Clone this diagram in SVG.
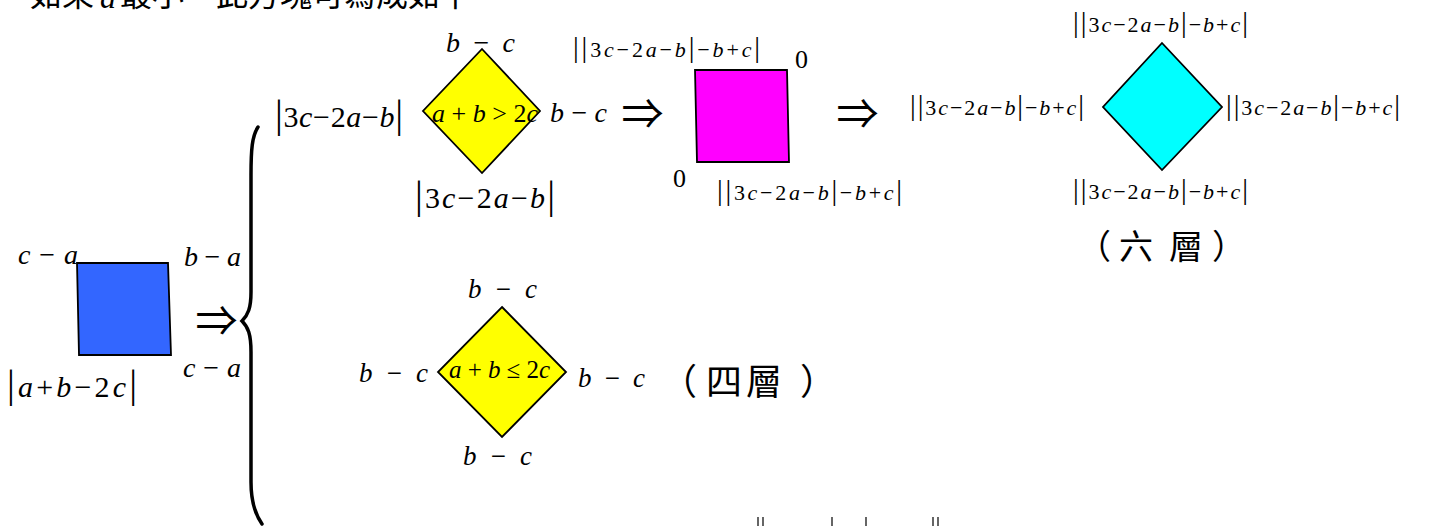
<svg xmlns="http://www.w3.org/2000/svg" width="1434" height="526" viewBox="0 0 1434 526">
<style>
.m{font-family:"Liberation Serif","DejaVu Serif",serif;fill:#000}
.i{font-style:italic}
.b{font-size:130%}
.cjk{font-family:"Noto Sans CJK TC","Noto Sans CJK SC",sans-serif;fill:#000}
.arr{font-family:"Noto Sans CJK JP","Noto Sans CJK TC","DejaVu Serif",sans-serif;font-size:42px;text-anchor:middle;fill:#000}
.shape{stroke:#000;stroke-width:1.8;stroke-linejoin:miter}
.s22{font-size:22px}.s24{font-size:24px}.s25{font-size:25px}.s26{font-size:26px}.s27{font-size:27px}.s28{font-size:28px}.s30{font-size:30px}
</style>
<rect width="1434" height="526" fill="#fff"/>

<g id="heading">
<text class="cjk" x="30" y="6" font-size="32">如果</text>
<text class="m i" x="100" y="8" font-size="32">a</text>
<text class="cjk" x="120" y="6" font-size="32">最小</text>
<text class="cjk" x="216" y="6" font-size="32">此方塊可寫成如下</text>
</g>

<g id="connectors">
<path d="M258,127 C252,136 251,150 251,175 L251,292 C251,308 248,315 242,321 C248,327 251,334 251,352 L251,482 C251,502 255,514 262,524" fill="none" stroke="#000" stroke-width="3.5" stroke-linecap="round"/>
<text class="arr" x="216.5" y="336">⇒</text>
<text class="arr" x="642.5" y="129">⇒</text>
<text class="arr" x="857.5" y="129">⇒</text>
</g>

<g id="sq-blue">
<polygon class="shape" points="77,263 168,263 171,355 79,355" fill="#3366FF"/>
<text class="m s28" x="18" y="264" textLength="60" lengthAdjust="spacing"><tspan class="i">c</tspan> − <tspan class="i">a</tspan></text>
<text class="m s28" x="184" y="266" textLength="57" lengthAdjust="spacing"><tspan class="i">b</tspan> − <tspan class="i">a</tspan></text>
<text class="m s28" x="183" y="377" textLength="58" lengthAdjust="spacing"><tspan class="i">c</tspan> − <tspan class="i">a</tspan></text>
<text class="m s30" x="7" y="397" textLength="130" lengthAdjust="spacing"><tspan class="b">|</tspan><tspan class="i">a</tspan>+<tspan class="i">b</tspan>−2<tspan class="i">c</tspan><tspan class="b">|</tspan></text>
</g>

<g id="dia-top">
<polygon class="shape" points="482,49 540,111 482,173 423,111" fill="#FFFF00"/>
<text class="m s28" x="446" y="52" textLength="69" lengthAdjust="spacing"><tspan class="i">b</tspan> − <tspan class="i">c</tspan></text>
<text class="m s30" x="275" y="127" textLength="128" lengthAdjust="spacing"><tspan class="b">|</tspan>3<tspan class="i">c</tspan>−2<tspan class="i">a</tspan>−<tspan class="i">b</tspan><tspan class="b">|</tspan></text>
<text class="m s26" x="432" y="122" textLength="106" lengthAdjust="spacing"><tspan class="i">a</tspan> + <tspan class="i">b</tspan> &gt; 2<tspan class="i">c</tspan></text>
<text class="m s28" x="550" y="122" textLength="57" lengthAdjust="spacing"><tspan class="i">b</tspan> − <tspan class="i">c</tspan></text>
<text class="m s30" x="415" y="208" textLength="140" lengthAdjust="spacing"><tspan class="b">|</tspan>3<tspan class="i">c</tspan>−2<tspan class="i">a</tspan>−<tspan class="i">b</tspan><tspan class="b">|</tspan></text>
</g>

<g id="sq-magenta">
<polygon class="shape" points="695,70 787,70 789,162 697,162" fill="#FF00FF"/>
<text class="m s22" x="573" y="57" textLength="187" lengthAdjust="spacing"><tspan class="b">||</tspan>3<tspan class="i">c</tspan>−2<tspan class="i">a</tspan>−<tspan class="i">b</tspan><tspan class="b">|</tspan>−<tspan class="i">b</tspan>+<tspan class="i">c</tspan><tspan class="b">|</tspan></text>
<text class="m s26" x="795" y="68">0</text>
<text class="m s26" x="673" y="187">0</text>
<text class="m s22" x="717" y="200" textLength="185" lengthAdjust="spacing"><tspan class="b">||</tspan>3<tspan class="i">c</tspan>−2<tspan class="i">a</tspan>−<tspan class="i">b</tspan><tspan class="b">|</tspan>−<tspan class="i">b</tspan>+<tspan class="i">c</tspan><tspan class="b">|</tspan></text>
</g>

<g id="dia-cyan">
<polygon class="shape" points="1162,43 1222,107 1162,170 1103,107" fill="#00FFFF"/>
<text class="m s22" x="1073" y="32" textLength="175" lengthAdjust="spacing"><tspan class="b">||</tspan>3<tspan class="i">c</tspan>−2<tspan class="i">a</tspan>−<tspan class="i">b</tspan><tspan class="b">|</tspan>−<tspan class="i">b</tspan>+<tspan class="i">c</tspan><tspan class="b">|</tspan></text>
<text class="m s22" x="910" y="115" textLength="174" lengthAdjust="spacing"><tspan class="b">||</tspan>3<tspan class="i">c</tspan>−2<tspan class="i">a</tspan>−<tspan class="i">b</tspan><tspan class="b">|</tspan>−<tspan class="i">b</tspan>+<tspan class="i">c</tspan><tspan class="b">|</tspan></text>
<text class="m s22" x="1226" y="115" textLength="174" lengthAdjust="spacing"><tspan class="b">||</tspan>3<tspan class="i">c</tspan>−2<tspan class="i">a</tspan>−<tspan class="i">b</tspan><tspan class="b">|</tspan>−<tspan class="i">b</tspan>+<tspan class="i">c</tspan><tspan class="b">|</tspan></text>
<text class="m s22" x="1073" y="199" textLength="175" lengthAdjust="spacing"><tspan class="b">||</tspan>3<tspan class="i">c</tspan>−2<tspan class="i">a</tspan>−<tspan class="i">b</tspan><tspan class="b">|</tspan>−<tspan class="i">b</tspan>+<tspan class="i">c</tspan><tspan class="b">|</tspan></text>
<text class="cjk" x="1077 1119 1169 1212" y="259" font-size="34">（六層）</text>
</g>

<g id="dia-low">
<polygon class="shape" points="502,307 566,372 502,437 438,372" fill="#FFFF00"/>
<text class="m s27" x="468" y="298" textLength="69" lengthAdjust="spacing"><tspan class="i">b</tspan> − <tspan class="i">c</tspan></text>
<text class="m s27" x="359" y="382" textLength="69" lengthAdjust="spacing"><tspan class="i">b</tspan> − <tspan class="i">c</tspan></text>
<text class="m s25" x="449" y="378" textLength="101" lengthAdjust="spacing"><tspan class="i">a</tspan> + <tspan class="i">b</tspan> ≤ 2<tspan class="i">c</tspan></text>
<text class="m s27" x="578" y="387" textLength="67" lengthAdjust="spacing"><tspan class="i">b</tspan> − <tspan class="i">c</tspan></text>
<text class="m s27" x="463" y="465" textLength="69" lengthAdjust="spacing"><tspan class="i">b</tspan> − <tspan class="i">c</tspan></text>
<text class="cjk" x="661 706 746 800" y="395" font-size="36">（四層）</text>
</g>

<g id="cut-bars">
<path d="M758,517V526M763,517V526M832,517V526M866,517V526M933,517V526M938,517V526" stroke="#000" stroke-width="1.2"/>
</g>
</svg>
